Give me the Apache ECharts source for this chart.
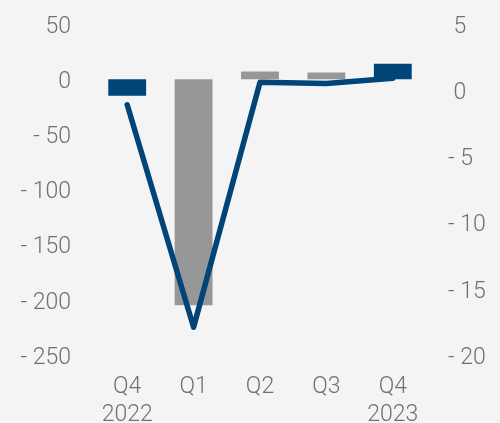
<!DOCTYPE html>
<html>
<head>
<meta charset="utf-8">
<script src="https://cdn.jsdelivr.net/npm/echarts@6/dist/echarts.min.js"></script>
<style>
  html, body { margin: 0; padding: 0; background: #f4f4f4; }
  #chart { width: 500px; height: 423px; }
</style>
</head>
<body>
<div id="chart"></div>
<script>
const categories = ['Q4\n2022', 'Q1', 'Q2', 'Q3', 'Q4\n2023']
// grey bars (quarters) and dark blue bars (year-end quarters), left axis
const quarterBars = ['-', -205, 7, 6, '-']
const yearEndBars = [-15, '-', '-', '-', 14]
// line, right axis
const lineValues = [-1.1, -17.9, 0.6, 0.5, 0.9]

const fmt = v => (v < 0 ? '- ' + Math.abs(v) : String(v))

const chart = echarts.init(document.getElementById('chart'))

const labelStyle = {
  color: '#707070',
  fontFamily: 'Roboto',
  fontWeight: 300,
  fontSize: 23
}
// shifts the tick labels a few px lower, like the original
const richLabel = { v: { ...labelStyle, padding: [6, 0, 0, 0] } }

chart.setOption({
  backgroundColor: '#f4f4f4',
  animation: false,
  grid: { left: 94, right: 74, top: 24, bottom: 68, outerBoundsMode: 'none' },
  xAxis: {
    type: 'category',
    data: categories,
    axisLine: { show: false },
    axisTick: { show: false },
    axisLabel: { ...labelStyle, lineHeight: 28, margin: 18 }
  },
  yAxis: [{
    type: 'value',
    min: -250,
    max: 50,
    interval: 50,
    splitLine: { show: false },
    axisLine: { show: false },
    axisTick: { show: false },
    axisLabel: {
      ...labelStyle,
      margin: 23,
      rich: richLabel,
      formatter: v => '{v|' + fmt(v) + '}'
    }
  }, {
    type: 'value',
    position: 'right',
    min: -20,
    max: 5,
    interval: 5,
    splitLine: { show: false },
    axisLine: { show: false },
    axisTick: { show: false },
    axisLabel: {
      ...labelStyle,
      margin: 22,
      rich: richLabel,
      formatter: v => '{v|' + (v < 0 ? fmt(v) : ' ' + v) + '}'
    }
  }],
  series: [{
    type: 'bar',
    data: quarterBars,
    barWidth: '57%',
    barGap: '-100%',
    itemStyle: { color: '#979797' }
  }, {
    type: 'bar',
    data: yearEndBars,
    barWidth: '57%',
    itemStyle: { color: '#004478' }
  }, {
    type: 'line',
    yAxisIndex: 1,
    data: lineValues,
    symbol: 'none',
    lineStyle: { color: '#004478', width: 5.5, cap: 'round', join: 'round' }
  }]
})
</script>
</body>
</html>
